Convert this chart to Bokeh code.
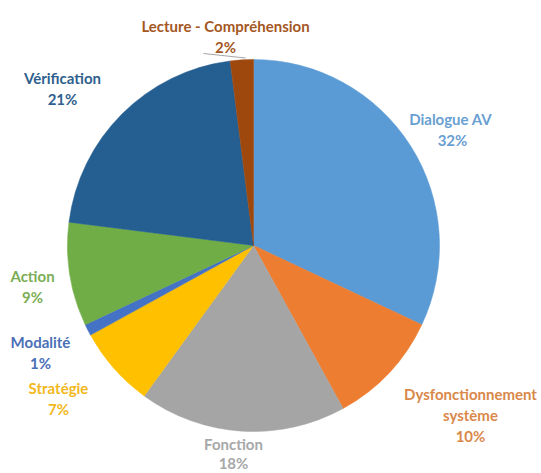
import math
from bokeh.plotting import figure
from bokeh.models import Range1d, ColumnDataSource
from bokeh.core.properties import value
from bokeh.embed import file_html
from bokeh.resources import INLINE

# ---- data ----
categories = ["Dialogue  AV", "Dysfonctionnement\nsystème", "Fonction", "Stratégie",
              "Modalité", "Action", "Vérification", "Lecture - Compréhension"]
percents = [32, 10, 18, 7, 1, 9, 21, 2]
colors = ["#5B9BD5", "#ED7D31", "#A5A5A5", "#FFC000",
          "#4472C4", "#70AD47", "#255E91", "#9E480E"]
text_colors = ["#6A9FD2", "#D9884A", "#A8A8A8", "#F2B81C",
               "#4A70B8", "#7CAE55", "#2F5F8E", "#A4571F"]

# label anchor positions (page pixels)
label_x = [452, 470, 233, 58, 40, 32, 62, 225]
label_y = [129, 414, 453, 398, 352, 286, 88, 36]

W, H = 541, 473
cx, cy_page, R = 253, 245, 186

def Y(py):
    return H - py

p = figure(width=W, height=H, output_backend="svg", toolbar_location=None,
           x_range=Range1d(0, W), y_range=Range1d(0, H),
           min_border=0)
p.axis.visible = False
p.grid.visible = False
p.outline_line_color = None
p.background_fill_color = "white"

total = sum(percents)
starts, ends = [], []
cum = 0
for v in percents:
    starts.append(math.pi / 2 - 2 * math.pi * cum / total)
    cum += v
    ends.append(math.pi / 2 - 2 * math.pi * cum / total)

src = ColumnDataSource(dict(x=[cx] * len(percents), y=[Y(cy_page)] * len(percents),
                            start=starts, end=ends, color=colors))
p.wedge(x="x", y="y", radius=R, start_angle="start", end_angle="end",
        direction="clock", fill_color="color", line_color="color", line_width=0.5,
        source=src)

# leader line for the small slice
ex = cx + R * math.cos(ends[-1] + 0.01)
ey = Y(cy_page) + R * math.sin(ends[-1] + 0.01)
p.line([label_x[-1] - 22, ex - 6], [Y(label_y[-1] + 17), ey + 1.5],
       line_color="#A5A5A5", line_width=1)

# labels
for name, pct, lx, ly, tc in zip(categories, percents, label_x, label_y, text_colors):
    lines = name.split("\n") + [f"{pct}%"]
    n = len(lines)
    lh = 21 if n < 3 else 21
    if name == "Fonction":
        lh = 19
    for i, t in enumerate(lines):
        yy = ly - (n - 1) * lh / 2 + i * lh
        p.text(x=[lx], y=[Y(yy)], text=[t], text_align="center", text_baseline="middle",
               text_font=value("Lato"), text_font_style="bold", text_font_size="15px",
               text_color=tc)

open("out.html", "w").write(file_html(p, INLINE))
